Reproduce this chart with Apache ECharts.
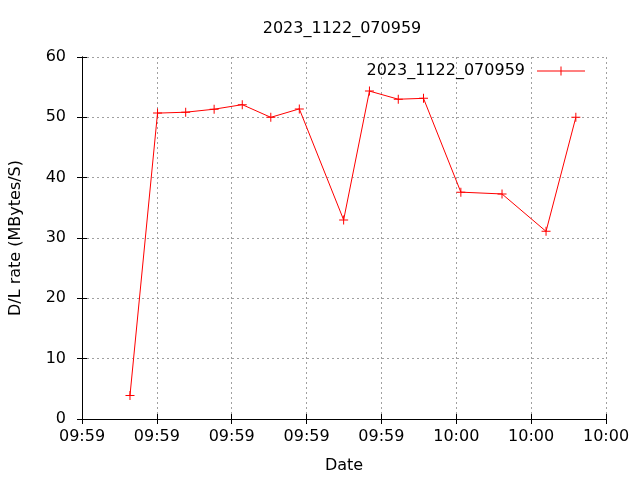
<!DOCTYPE html>
<html><head><meta charset="utf-8">
<script src="https://cdn.jsdelivr.net/npm/echarts@6/dist/echarts.min.js"></script>
<style>html,body{margin:0;padding:0;background:#fff}#c{width:640px;height:480px}</style>
</head><body><div id="c"></div>
<script>
const seriesName = '2023_1122_070959';
const xSeconds = [6.41, 10.09, 13.85, 17.65, 21.41, 25.22, 29.03, 34.95, 38.4, 42.25, 45.62, 50.61, 56.11, 61.99, 65.97];
const rates = [3.9, 50.7, 50.85, 51.35, 52.1, 50.0, 51.4, 33.0, 54.35, 53.0, 53.15, 37.6, 37.3, 31.1, 50.0];
const xTickLabels = ['09:59','09:59','09:59','09:59','09:59','10:00','10:00','10:00'];
const yTicks = [0, 10, 20, 30, 40, 50, 60];

const font = 'DejaVu Sans';
const plus = 'path://M4,0h1v4h4v1h-4v4h-1v-4h-4v-1h4z';
const grid = {type: [2, 3], color: '#a0a0a0', width: 1};
const chart = echarts.init(document.getElementById('c'));
chart.setOption({
  animation: false,
  backgroundColor: '#fff',
  textStyle: {fontFamily: font},
  title: {text: seriesName, left: 337, textAlign: 'center', top: 16,
    textStyle: {fontFamily: font, fontSize: 16, fontWeight: 'normal', color: '#000'}},
  legend: {right: 50, top: 58, itemWidth: 48, itemHeight: 9, itemGap: 0,
    align: 'right',
    data: [{name: seriesName, icon: 'path://M0,4h48v1h-48zM23.5,0h1v9h-1z'}],
    textStyle: {fontFamily: font, fontSize: 16, color: '#000', padding: [0, 7, 0, 0]}},
  grid: {left: 79, right: 34, top: 57, bottom: 61, containLabel: false},
  xAxis: [{
    type: 'value', min: 0, max: 70, interval: 10, position: 'bottom',
    name: 'Date', nameLocation: 'middle', nameGap: 39,
    nameTextStyle: {fontFamily: font, fontSize: 16, color: '#000'},
    axisLine: {lineStyle: {color: '#000', width: 1}},
    axisTick: {inside: true, length: 5, lineStyle: {color: '#000'}},
    axisLabel: {fontFamily: font, fontSize: 16, color: '#000', margin: 10,
      formatter: v => xTickLabels[Math.round(v / 10)]},
    splitLine: {show: true, lineStyle: grid}
  }, {
    type: 'value', min: 0, max: 70, interval: 10, position: 'top',
    axisLine: {lineStyle: {color: '#000', width: 1}},
    axisTick: {inside: true, length: 5, lineStyle: {color: '#000'}},
    axisLabel: {show: false}, splitLine: {show: false}
  }],
  yAxis: [{
    type: 'value', min: yTicks[0], max: yTicks[yTicks.length - 1], interval: 10, position: 'left',
    name: 'D/L rate (MBytes/S)', nameLocation: 'middle', nameGap: 58,
    nameTextStyle: {fontFamily: font, fontSize: 16, color: '#000'},
    axisLine: {show: true, lineStyle: {color: '#000', width: 1}},
    axisTick: {show: true, inside: true, length: 5, lineStyle: {color: '#000'}},
    axisLabel: {fontFamily: font, fontSize: 16, color: '#000', margin: 16},
    splitLine: {show: true, lineStyle: grid}
  }, {
    type: 'value', min: yTicks[0], max: yTicks[yTicks.length - 1], interval: 10, position: 'right',
    axisLine: {show: true, lineStyle: {color: '#000', width: 1}},
    axisTick: {show: true, inside: true, length: 5, lineStyle: {color: '#000'}},
    axisLabel: {show: false}, splitLine: {show: false}
  }],
  series: [{
    name: seriesName, type: 'line', xAxisIndex: 0, yAxisIndex: 0,
    data: xSeconds.map((x, i) => [x, rates[i]]),
    symbol: plus, symbolSize: 9, showSymbol: true,
    lineStyle: {color: '#ff0000', width: 1},
    itemStyle: {color: '#ff0000'},
    emphasis: {disabled: true}
  }]
});
</script></body></html>
